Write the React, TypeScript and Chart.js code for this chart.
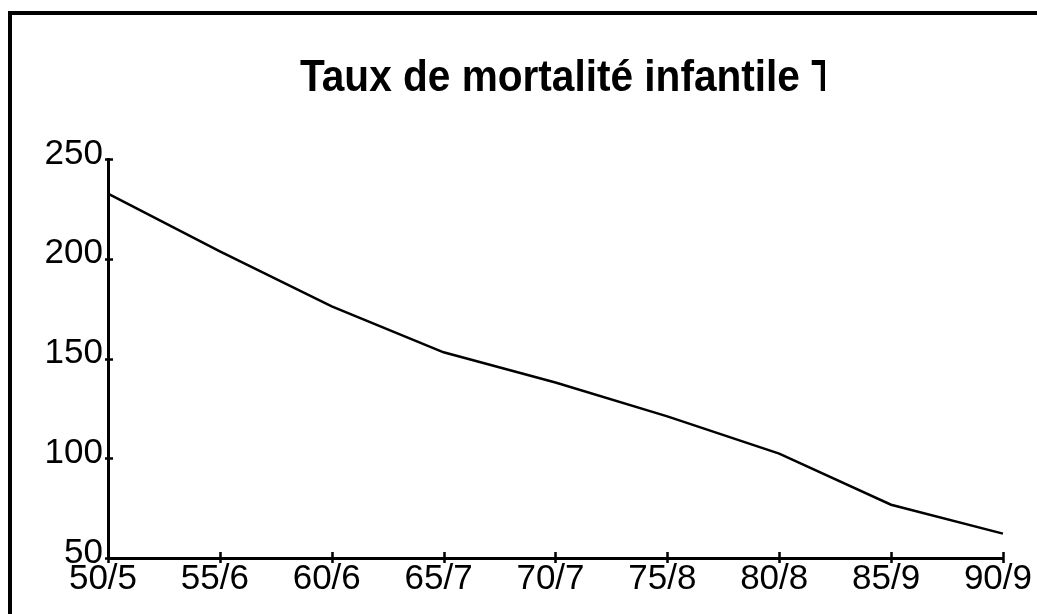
import React, { useEffect, useRef } from "react";
import { Chart, registerables } from "chart.js";

Chart.register(...registerables);

// ---- data ----
const CATEGORIES: string[] = ["50/5", "55/6", "60/6", "65/7", "70/7", "75/8", "80/8", "85/9", "90/9"];
const MORTALITY: number[] = [232.6, 203.7, 176.1, 153.1, 138.0, 121.0, 102.3, 76.7, 62.2];
const Y_TICKS: number[] = [50, 100, 150, 200, 250];
const TITLE = "Taux de mortalité infantile T";

const FONT_FAMILY = '"Liberation Sans", Arial, Helvetica, sans-serif';

const CANVAS_W = 1025;
const CANVAS_H = 599;

const crossTicksPlugin = {
  id: "crossTicks",
  afterDraw(chart: any) {
    const ctx = chart.ctx;
    const xs = chart.scales.x;
    const ys = chart.scales.y;
    const area = chart.chartArea;
    ctx.save();
    ctx.strokeStyle = "#000";
    ctx.lineWidth = 2.5;
    ctx.beginPath();
    for (let i = 0; i < xs.ticks.length; i++) {
      const px = Math.round(xs.getPixelForTick(i)) + 0.5;
      ctx.moveTo(px, area.bottom - 6);
      ctx.lineTo(px, area.bottom + 5);
    }
    for (let i = 0; i < ys.ticks.length; i++) {
      const py = Math.round(ys.getPixelForTick(i)) + 0.5;
      ctx.moveTo(area.left - 3, py);
      ctx.lineTo(area.left + 5, py);
    }
    ctx.stroke();
    ctx.restore();
  },
};

const clippedTitlePlugin = {
  id: "clippedTitle",
  afterDraw(chart: any) {
    const ctx = chart.ctx;
    const area = chart.chartArea;
    ctx.save();
    ctx.beginPath();
    ctx.rect(0, 0, 813, area.top);
    ctx.clip();
    ctx.font = "bold 45px " + FONT_FAMILY;
    ctx.fillStyle = "#000";
    ctx.textBaseline = "alphabetic";
    ctx.textAlign = "left";
    ctx.translate(288, area.top - 68);
    ctx.scale(0.902, 1);
    ctx.fillText(TITLE, 0, 0);
    ctx.restore();
  },
};

export default function App() {
  const canvasRef = useRef<HTMLCanvasElement | null>(null);

  useEffect(() => {
    const canvas = canvasRef.current;
    if (!canvas) return;
    const chart = new Chart(canvas, {
      type: "line",
      data: {
        labels: CATEGORIES,
        datasets: [
          {
            label: TITLE,
            data: MORTALITY,
            borderColor: "#000",
            borderWidth: 2.5,
            pointRadius: 0,
            pointHoverRadius: 0,
            tension: 0,
            fill: false,
          },
        ],
      },
      options: {
        responsive: false,
        animation: false,
        devicePixelRatio: 1,
        layout: { padding: { top: 144, right: 34, left: 0, bottom: 0 } },
        plugins: {
          legend: { display: false },
          title: { display: false },
          tooltip: { enabled: false },
        },
        scales: {
          x: {
            type: "category",
            offset: false,
            grid: { display: true, drawOnChartArea: false, drawTicks: false },
            border: { display: true, color: "#000", width: 3 },
            ticks: {
              color: "#000",
              font: { family: FONT_FAMILY, size: 35 },
              padding: 0,
              labelOffset: -5,
              maxRotation: 0,
              minRotation: 0,
              autoSkip: false,
            },
            afterFit: (s: any) => {
              s.height = 56;
            },
          },
          y: {
            type: "linear",
            min: 50,
            max: 250,
            grid: { display: true, drawOnChartArea: false, drawTicks: false },
            border: { display: true, color: "#000", width: 3 },
            afterBuildTicks: (s: any) => {
              s.ticks = Y_TICKS.map((v) => ({ value: v }));
            },
            ticks: {
              color: "#000",
              font: { family: FONT_FAMILY, size: 35 },
              padding: 5,
              labelOffset: -5,
            },
            afterFit: (s: any) => {
              s.width = 96;
            },
          },
        },
      },
      plugins: [crossTicksPlugin, clippedTitlePlugin],
    });
    return () => chart.destroy();
  }, []);

  return (
    <div
      style={{
        position: "fixed",
        left: 0,
        top: 0,
        width: "100vw",
        height: "100vh",
        overflow: "hidden",
        background: "#fff",
      }}
    >
      <div
        style={{
          position: "absolute",
          left: 8,
          top: 11,
          width: 1200,
          height: 800,
          border: "4px solid #000",
          boxSizing: "border-box",
        }}
      >
        <canvas
          ref={canvasRef}
          width={CANVAS_W}
          height={CANVAS_H}
          style={{ position: "absolute", left: 0, top: 0, width: CANVAS_W, height: CANVAS_H }}
        />
      </div>
    </div>
  );
}
